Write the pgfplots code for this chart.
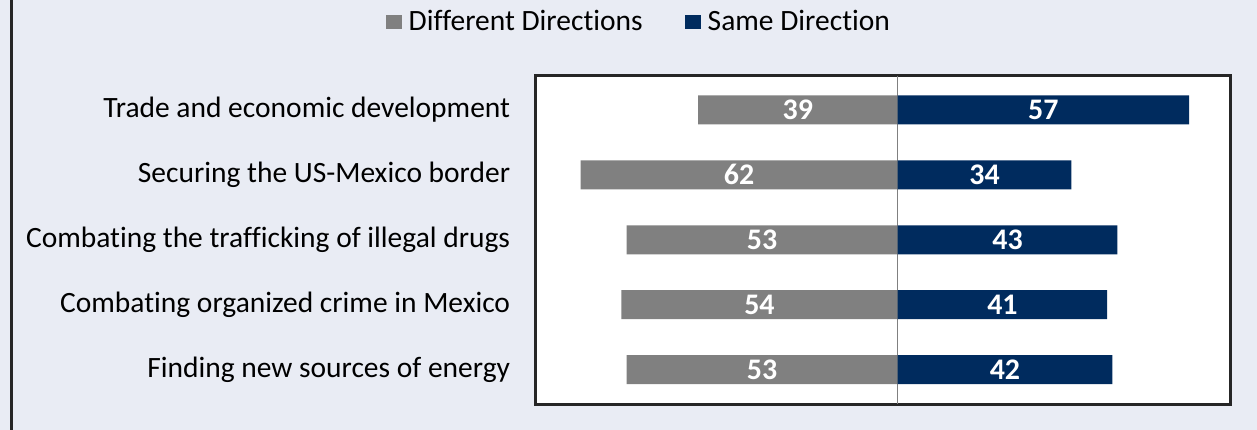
\documentclass[border=0pt]{standalone}
\usepackage{pgfplots}
\pgfplotsset{compat=1.18}
\usepackage{pgfplotstable}
\usepackage{fontspec}
\setmainfont{Carlito}[Ligatures=NoCommon]
\definecolor{bgc}{HTML}{E9ECF4}
\definecolor{navy}{HTML}{002B5E}
\definecolor{grayb}{HTML}{808080}
\definecolor{frame}{HTML}{262626}

\pgfplotstableread{
y v
0 -39
1 -62
2 -53
3 -54
4 -53
}\diffdata
\pgfplotstableread{
y v
0 57
1 34
2 43
3 41
4 42
}\samedata

\begin{document}
\begin{tikzpicture}
\useasboundingbox (0,0) rectangle (628.5bp,215bp);
\fill[bgc] (0,0) rectangle (628.5bp,215bp);
\draw[frame, line width=1.5bp] (5.5bp,0) -- (5.5bp,215bp);
\begin{axis}[
  at={(267.75bp,13bp)}, anchor=south west,
  scale only axis, width=347.75bp, height=164.25bp,
  xmin=-70.8, xmax=65.2,
  ymin=-0.53, ymax=4.53, y dir=reverse,
  axis background/.style={fill=white},
  axis line style={frame, line width=1.5bp},
  xtick=\empty,
  extra x ticks={0}, extra x tick labels={},
  extra x tick style={grid=major, major grid style={gray, line width=0.5bp}, major tick length=0pt},
  ytick={0,1,2,3,4},
  yticklabels={Trade and economic development, Securing the US-Mexico border, Combating the trafficking of illegal drugs, Combating organized crime in Mexico, Finding new sources of energy},
  ytick style={draw=none}, major tick length=0pt,
  yticklabel style={font=\fontsize{14.8}{17}\selectfont, anchor=east, inner sep=0pt, xshift=-12.5bp},
  xbar, bar width=14.5bp, bar shift=0pt,
  point meta={abs(\thisrow{v})},
  visualization depends on={\thisrow{v} \as \rawv},
  nodes near coords={\pgfmathprintnumber[assume math mode=true]{\pgfplotspointmeta}},
  every node near coord/.append style={anchor=center, text=white, font=\bfseries\fontsize{15}{17}\selectfont, shift={(axis direction cs:-\rawv/2,0)}},
  legend columns=2,
  legend style={at={(0.150,1.163)}, anchor=center, draw=none, fill=none, font=\fontsize{14.8}{17}\selectfont, inner sep=0pt,
    /tikz/every even column/.append style={column sep=19bp}},
  legend image code/.code={\fill[#1] (0bp,-3.5bp) rectangle (8bp,3.5bp); \path (9.5bp,0bp);},
  clip=false,
]
\addplot[fill=grayb, draw=none] table[x=v, y=y] {\diffdata};
\addlegendentry{Different Directions}
\addplot[fill=navy, draw=none] table[x=v, y=y] {\samedata};
\addlegendentry{Same Direction}
\end{axis}
\end{tikzpicture}
\end{document}
